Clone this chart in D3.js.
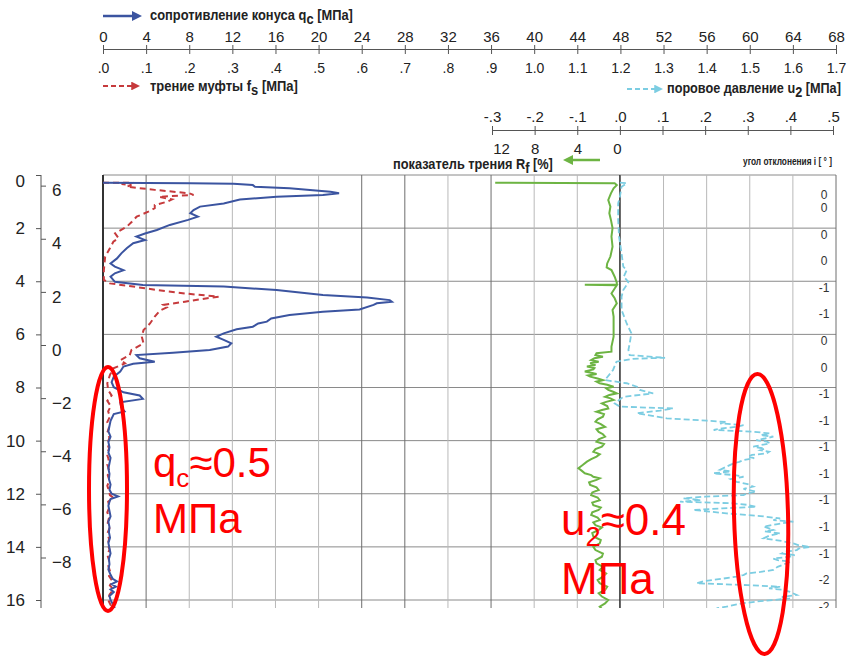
<!DOCTYPE html>
<html>
<head>
<meta charset="utf-8">
<script src="https://cdn.jsdelivr.net/npm/d3@7"></script>
<style>
body { margin: 0; background: #fff; }
text { font-family: "Liberation Sans Narrow", "Arial Narrow", "Liberation Sans", Arial, sans-serif; }
</style>
</head>
<body>
<div id="chart"></div>
<script>
// ---- data (depth m, value) ----
var qcProfile = [[0.29,0],[0.31,8.1],[0.33,12.1],[0.38,13.9],[0.44,14.1],[0.50,17.3],[0.63,21.1],[0.69,21.9],[0.75,20.4],[0.82,16.1],[0.92,12.7],[1.07,11.2],[1.19,9.0],[1.32,8.4],[1.44,8.1],[1.57,8.8],[1.69,7.9],[1.88,6.2],[2.07,5.0],[2.20,3.9],[2.32,3.1],[2.45,3.9],[2.57,2.8],[2.76,2.2],[2.95,1.7],[3.14,1.3],[3.33,0.7],[3.45,1.1],[3.58,1.9],[3.70,1.1],[3.83,0.7],[4.02,1.1],[4.14,3.7],[4.20,11.2],[4.33,16.1],[4.52,20.4],[4.61,24.5],[4.71,26.6],[4.77,26.8],[4.83,25.4],[4.89,25.1],[5.06,23.8],[5.15,20.4],[5.27,17.3],[5.40,15.6],[5.52,15.2],[5.59,14.4],[5.71,13.9],[5.81,12.4],[5.96,11.2],[6.09,10.5],[6.21,11.2],[6.34,11.9],[6.46,11.6],[6.59,9.9],[6.69,6.5],[6.78,3.1],[6.90,3.4],[7.03,4.8],[7.11,2.8],[7.21,1.9],[7.40,1.6],[7.59,1.0],[7.80,0.8],[7.99,1.0],[8.18,1.9],[8.30,3.4],[8.43,3.7],[8.56,1.6],[8.75,1.7],[8.90,2.0],[9.00,1.0],[9.25,0.7],[9.45,0.6],[9.65,0.5],[9.85,0.7],[10.05,0.5],[10.25,0.6],[10.45,0.5],[10.65,0.7],[10.85,0.6],[11.05,0.5],[11.25,0.6],[11.45,0.55],[11.65,0.7],[11.85,0.6],[12.0,0.8],[12.1,1.4],[12.2,0.7],[12.3,0.6],[12.45,0.5],[12.65,0.6],[12.85,0.7],[13.05,0.5],[13.25,0.6],[13.45,0.55],[13.65,0.65],[13.85,0.5],[14.05,0.6],[14.25,0.7],[14.45,0.55],[14.65,0.6],[14.85,0.5],[15.05,0.7],[15.2,0.9],[15.3,1.3],[15.4,0.8],[15.5,1.2],[15.6,0.7],[15.7,1.0],[15.85,0.6],[16.0,0.7],[16.15,0.9],[16.3,1.1]];

var fsProfile = [[0.29,0],[0.29,0.07],[0.34,0.043],[0.38,0.066],[0.44,0.055],[0.56,0.12],[0.69,0.2],[0.75,0.21],[0.82,0.13],[0.92,0.16],[1.0,0.15],[1.13,0.12],[1.25,0.12],[1.38,0.105],[1.57,0.078],[1.76,0.067],[1.95,0.055],[2.2,0.028],[2.38,0.036],[2.51,0.024],[2.76,0.016],[3.07,0.005],[3.58,0.002],[3.95,0.002],[4.08,0.016],[4.2,0.07],[4.33,0.125],[4.46,0.19],[4.58,0.268],[4.68,0.225],[4.77,0.19],[4.89,0.14],[4.98,0.148],[5.11,0.132],[5.33,0.12],[5.59,0.109],[5.84,0.094],[6.09,0.09],[6.34,0.094],[6.59,0.066],[6.78,0.062],[6.97,0.04],[7.09,0.051],[7.28,0.024],[7.53,0.016],[7.84,0.01],[8.1,0.012],[8.3,0.02],[8.5,0.01],[8.7,0.018],[8.9,0.012],[9.1,0.016],[9.3,0.01],[9.5,0.014],[9.7,0.01],[9.9,0.015],[10.1,0.01],[10.3,0.014],[10.5,0.009],[10.7,0.013],[10.9,0.01],[11.1,0.014],[11.3,0.011],[11.5,0.015],[11.7,0.01],[11.9,0.014],[12.05,0.016],[12.15,0.024],[12.3,0.012],[12.5,0.015],[12.7,0.01],[12.9,0.014],[13.1,0.011],[13.3,0.015],[13.5,0.01],[13.7,0.014],[13.9,0.011],[14.1,0.015],[14.3,0.01],[14.5,0.014],[14.7,0.012],[14.9,0.016],[15.1,0.014],[15.3,0.022],[15.45,0.016],[15.6,0.024],[15.8,0.015],[16.0,0.012],[16.2,0.018],[16.35,0.014]];

var rfProfile = [[0.29,11.7],[0.31,0.5],[0.38,0.3],[0.50,0.6],[0.69,0.85],[0.94,1.1],[1.19,0.9],[1.44,1.0],[1.69,0.85],[2.0,0.7],[2.32,0.8],[2.70,0.7],[3.07,0.9],[3.33,1.2],[3.48,1.25],[3.58,0.8],[3.83,0.5],[4.05,0.3],[4.12,0.3],[4.13,3.3],[4.15,0.3],[4.27,0.5],[4.46,0.8],[4.64,0.5],[4.83,0.3],[5.08,0.7],[5.33,0.6],[5.71,0.6],[6.09,0.6],[6.46,0.8],[6.65,0.8],[6.71,2.2],[6.78,2.3],[6.84,1.6],[6.90,2.4],[6.97,2.7],[7.03,2.0],[7.09,2.8],[7.15,2.3],[7.21,3.1],[7.27,2.4],[7.32,2.5],[7.40,3.3],[7.45,2.6],[7.49,2.2],[7.55,3.0],[7.59,2.8],[7.66,2.1],[7.72,1.6],[7.78,2.2],[7.84,1.9],[7.90,1.2],[7.97,0.6],[8.03,1.3],[8.09,1.1],[8.15,0.7],[8.22,0.3],[8.28,1.0],[8.35,1.4],[8.41,0.9],[8.47,0.6],[8.54,1.3],[8.60,1.7],[8.70,1.2],[8.79,1.1],[8.85,1.7],[8.91,2.2],[9.00,1.5],[9.10,1.6],[9.20,2.1],[9.29,2.3],[9.38,1.8],[9.48,1.4],[9.57,2.2],[9.67,2.0],[9.76,1.6],[9.85,1.4],[9.95,2.0],[10.04,2.2],[10.13,1.5],[10.23,1.7],[10.32,2.3],[10.42,2.5],[10.51,1.9],[10.60,2.2],[10.70,2.7],[10.79,3.1],[10.92,3.5],[11.04,3.9],[11.13,3.6],[11.23,3.3],[11.30,2.7],[11.36,2.5],[11.42,1.9],[11.48,2.2],[11.57,2.9],[11.67,2.8],[11.76,2.2],[11.86,2.0],[11.95,2.6],[12.05,2.7],[12.14,2.1],[12.24,1.9],[12.33,2.6],[12.43,2.5],[12.52,1.8],[12.61,2.0],[12.70,2.6],[12.80,2.7],[12.90,2.1],[12.99,1.9],[13.08,2.5],[13.18,2.3],[13.27,1.7],[13.36,2.0],[13.48,2.6],[13.61,2.5],[13.74,1.8],[13.87,1.9],[14.0,2.5],[14.12,2.3],[14.25,1.6],[14.37,1.7],[14.50,2.3],[14.62,2.2],[14.75,1.6],[14.87,1.9],[15.0,1.3],[15.12,1.6],[15.25,2.1],[15.37,1.9],[15.50,1.2],[15.62,1.4],[15.75,2.0],[15.87,1.7],[16.0,1.1],[16.13,1.4],[16.25,1.9],[16.38,1.6]];

var u2Profile = [[0.29,0.0],[0.31,0.016],[0.44,0.004],[0.82,0.0],[1.07,-0.004],[1.69,-0.004],[2.32,-0.002],[2.95,0.004],[3.45,0.008],[3.58,0.016],[3.83,0.009],[4.02,0.02],[4.14,0.016],[4.33,0.008],[4.58,0.004],[5.08,0.004],[5.59,0.016],[5.96,0.027],[6.34,0.023],[6.59,0.02],[6.78,0.023],[6.88,0.106],[6.92,0.03],[7.03,-0.008],[7.34,-0.016],[7.72,-0.035],[7.84,0.016],[7.97,0.04],[8.09,0.047],[8.22,0.078],[8.35,0.008],[8.60,-0.012],[8.72,0.0],[8.79,0.125],[8.87,0.094],[8.97,0.04],[9.16,0.11],[9.25,0.204],[9.30,0.25],[9.35,0.235],[9.42,0.29],[9.48,0.274],[9.54,0.24],[9.60,0.22],[9.66,0.31],[9.73,0.352],[9.79,0.33],[9.85,0.36],[9.92,0.34],[9.98,0.32],[10.04,0.345],[10.1,0.352],[10.17,0.33],[10.23,0.313],[10.30,0.34],[10.36,0.33],[10.42,0.35],[10.48,0.344],[10.54,0.31],[10.6,0.3],[10.66,0.315],[10.73,0.29],[10.80,0.28],[10.86,0.266],[10.98,0.25],[11.1,0.235],[11.16,0.26],[11.23,0.219],[11.30,0.27],[11.36,0.29],[11.45,0.26],[11.55,0.274],[11.64,0.3],[11.73,0.313],[11.82,0.29],[11.92,0.32],[11.98,0.30],[12.05,0.29],[12.11,0.2],[12.17,0.149],[12.24,0.19],[12.30,0.141],[12.36,0.266],[12.42,0.3],[12.49,0.32],[12.55,0.24],[12.61,0.172],[12.67,0.21],[12.74,0.25],[12.84,0.33],[12.93,0.376],[12.99,0.36],[13.05,0.407],[13.14,0.37],[13.24,0.337],[13.30,0.35],[13.36,0.36],[13.42,0.34],[13.49,0.376],[13.58,0.35],[13.68,0.337],[13.78,0.38],[13.87,0.407],[13.94,0.42],[14.0,0.446],[14.06,0.42],[14.12,0.415],[14.18,0.39],[14.25,0.38],[14.31,0.41],[14.37,0.399],[14.44,0.36],[14.5,0.37],[14.56,0.4],[14.62,0.391],[14.75,0.37],[14.87,0.36],[14.94,0.33],[15.0,0.297],[15.06,0.29],[15.12,0.274],[15.20,0.24],[15.28,0.2],[15.37,0.18],[15.44,0.3],[15.5,0.376],[15.56,0.35],[15.62,0.383],[15.70,0.4],[15.81,0.415],[15.88,0.38],[15.94,0.399],[16.0,0.36],[16.06,0.32],[16.12,0.29],[16.19,0.266],[16.25,0.25],[16.31,0.227]];

// axis ticks / labels
var qcTicks = d3.range(0, 69, 4);
var fsTicks = d3.range(0, 18).map(function(i) { return i / 10; });
var u2Ticks = [-0.3, -0.2, -0.1, 0, 0.1, 0.2, 0.3, 0.4, 0.5];
var rfTicks = [12, 8, 4, 0];
var depthTicks = d3.range(0, 17, 2);
var elevTicks = d3.range(6, -11, -2);
var angleDepths = [0.75, 1.25, 2.25, 3.25, 4.25, 5.25, 6.25, 7.25, 8.25, 9.25, 10.25, 11.25, 12.25, 13.25, 14.25, 15.25, 16.25];
var angleLabels = ["0","0","0","0","-1","-1","0","0","-1","-1","-1","-1","-1","-1","-1","-2","-2"];
var darkGrid = [4, 24, 28, 36, 68];

var width = 847, height = 657;
var cutY = 608;
var numFont = "'Liberation Sans Narrow','Arial Narrow','Liberation Sans',sans-serif";

var svg = d3.select("#chart").append("svg")
    .attr("width", width)
    .attr("height", height);

var defs = svg.append("defs");
defs.append("clipPath").attr("id", "cut")
  .append("rect").attr("x", 0).attr("y", 0).attr("width", width).attr("height", cutY);

function arrowMarker(id, color) {
    defs.append("marker")
        .attr("id", id)
        .attr("viewBox", "0 0 10 10")
        .attr("refX", 2).attr("refY", 5)
        .attr("markerWidth", 4).attr("markerHeight", 4)
        .attr("markerUnits", "strokeWidth")
        .attr("orient", "auto")
      .append("path")
        .attr("d", "M0,0 L10,5 L0,10 z")
        .attr("fill", color);
}
var cBlue = "#3b54a0", cRed = "#c63a3c", cGreen = "#6db443", cCyan = "#7ccde2";
arrowMarker("arBlue", cBlue);
arrowMarker("arRed", cRed);
arrowMarker("arGreen", cGreen);
arrowMarker("arCyan", cCyan);

// scales
var qcX = d3.scaleLinear().domain([0, 68]).range([103, 836]);
var fsX = d3.scaleLinear().domain([0, 1.7]).range([103, 836]);
var u2X = d3.scaleLinear().domain([-0.3, 0.5]).range([492, 833]);
var rfX = d3.scaleLinear().domain([0, 12]).range([620, 492]);
var depthY = d3.scaleLinear().domain([0, 16]).range([175, 600]);
var elevY = d3.scaleLinear().domain([6.4, -9.6]).range([175, 600]);

var g = svg.append("g").attr("clip-path", "url(#cut)");

// grid
g.append("g").selectAll("line")
    .data(depthTicks)
    .enter().append("line")
      .attr("x1", qcX(0)).attr("x2", qcX(68))
      .attr("y1", function(d) { return depthY(d); })
      .attr("y2", function(d) { return depthY(d); })
      .attr("stroke", "#8a8a8a").attr("stroke-width", 1);

g.append("g").selectAll("line")
    .data(qcTicks.slice(1))
    .enter().append("line")
      .attr("x1", function(d) { return qcX(d); })
      .attr("x2", function(d) { return qcX(d); })
      .attr("y1", depthY(0)).attr("y2", cutY)
      .attr("stroke", function(d) { return darkGrid.indexOf(d) >= 0 ? "#6e6e6e" : "#b9b9b9"; })
      .attr("stroke-width", 1);

// zero lines
g.append("line").attr("x1", qcX(0)).attr("x2", qcX(0))
    .attr("y1", depthY(0)).attr("y2", cutY)
    .attr("stroke", "#333").attr("stroke-width", 2);
g.append("line").attr("x1", u2X(0)).attr("x2", u2X(0))
    .attr("y1", depthY(0)).attr("y2", cutY)
    .attr("stroke", "#222").attr("stroke-width", 1.3);

// curves
function profileLine(xs) {
    return d3.line()
        .x(function(d) { return xs(d[1]); })
        .y(function(d) { return depthY(d[0]); });
}

g.append("path").datum(fsProfile)
    .attr("d", profileLine(fsX))
    .attr("fill", "none").attr("stroke", cRed)
    .attr("stroke-width", 2).attr("stroke-dasharray", "6,4");

g.append("path").datum(qcProfile)
    .attr("d", profileLine(qcX))
    .attr("fill", "none").attr("stroke", cBlue)
    .attr("stroke-width", 2);

g.append("path").datum(rfProfile)
    .attr("d", profileLine(rfX))
    .attr("fill", "none").attr("stroke", cGreen)
    .attr("stroke-width", 2);

g.append("path").datum(u2Profile)
    .attr("d", profileLine(u2X))
    .attr("fill", "none").attr("stroke", cCyan)
    .attr("stroke-width", 1.8).attr("stroke-dasharray", "6,3");

// angle column
g.append("g").selectAll("text")
    .data(angleDepths)
    .enter().append("text")
      .attr("x", 824)
      .attr("y", function(d) { return depthY(d) + 4; })
      .attr("text-anchor", "middle")
      .attr("font-size", 12)
      .attr("fill", "#333")
      .text(function(d, i) { return angleLabels[i]; });

// left axes: depth and elevation
var depthAxis = g.append("g")
    .attr("transform", "translate(41,0)")
    .call(d3.axisLeft(depthY).tickValues(depthTicks).tickSize(5).tickPadding(11).tickSizeOuter(0));
depthAxis.select(".domain").attr("d", "M0," + depthY(0) + "V" + cutY);

var elevAxis = g.append("g")
    .attr("transform", "translate(41,0)")
    .call(d3.axisRight(elevY).tickValues(elevTicks).tickSize(5).tickPadding(6).tickSizeOuter(0));
elevAxis.select(".domain").remove();
elevAxis.selectAll(".tick text").attr("dy", "0.6em");

[depthAxis, elevAxis].forEach(function(a) {
    a.selectAll(".domain, .tick line").attr("stroke", "#555");
    a.selectAll(".tick text")
        .attr("font-size", 17)
        .attr("fill", "#222")
        .style("font-family", numFont);
});
depthAxis.selectAll(".tick text").filter(function(d) { return d === 0; }).attr("dy", "0.7em");

// top axis: qc above, fs below
function styleTopAxis(a, size) {
    a.selectAll(".domain").attr("stroke", "#555");
    a.selectAll(".tick line").attr("stroke", "#555").attr("y1", -4).attr("y2", 5);
    a.selectAll(".tick text")
        .attr("font-size", size).attr("fill", "#222")
        .style("font-family", numFont);
}

var qcAxis = svg.append("g")
    .attr("transform", "translate(0,49)")
    .call(d3.axisTop(qcX).tickValues(qcTicks).tickSize(4).tickPadding(3).tickSizeOuter(0));
styleTopAxis(qcAxis, 15);

var fsAxis = svg.append("g")
    .attr("transform", "translate(0,49)")
    .call(d3.axisBottom(fsX).tickValues(fsTicks).tickSizeOuter(0)
        .tickFormat(function(d) { return d < 1 ? "." + Math.round(d * 10) : d.toFixed(1); }));
fsAxis.select(".domain").remove();
fsAxis.selectAll(".tick line").remove();
fsAxis.selectAll(".tick text").attr("y", 24).attr("dy", 0)
    .attr("font-size", 14).attr("fill", "#222")
    .style("font-family", numFont);

// u2 axis with Rf labels underneath
var u2Axis = svg.append("g")
    .attr("transform", "translate(0,130)")
    .call(d3.axisTop(u2X).tickValues(u2Ticks).tickSize(4).tickPadding(4).tickSizeOuter(0)
        .tickFormat(function(d) {
            var s = Math.abs(d) < 1e-9 ? ".0" : "." + Math.round(Math.abs(d) * 10);
            return d < -1e-9 ? "-" + s : s;
        }));
styleTopAxis(u2Axis, 15);

var rfAxis = svg.append("g")
    .attr("transform", "translate(0,130)")
    .call(d3.axisBottom(rfX).tickValues(rfTicks).tickSizeOuter(0));
rfAxis.select(".domain").remove();
rfAxis.selectAll(".tick line").remove();
rfAxis.selectAll(".tick text").attr("y", 24).attr("dy", 0)
    .attr("dx", function(d) { return d === 12 ? 9 : (d === 0 ? -3 : 0); })
    .attr("font-size", 15).attr("fill", "#222")
    .style("font-family", numFont);

// legend titles, squeezed horizontally to the narrow lettering of the original
function squeeze(t, x, y, anchor, len) {
    var w = t.node().getComputedTextLength();
    var sx = Math.min(1, len / w);
    var x0 = anchor === "end" ? x - w * sx : x;
    t.attr("text-anchor", "start")
     .attr("transform", "translate(" + x0 + "," + y + ") scale(" + sx + ",1)");
}

function legendText(x, y, anchor, size, len, main, sub, tail) {
    var t = svg.append("text")
        .attr("x", 0).attr("y", 0)
        .attr("font-size", size)
        .attr("font-weight", "bold")
        .attr("fill", "#222");
    t.append("tspan").text(main);
    t.append("tspan").attr("dy", 4).text(sub);
    t.append("tspan").attr("dy", -4).text(tail);
    squeeze(t, x, y, anchor, len);
    return t;
}

svg.append("line").attr("x1", 103).attr("x2", 134).attr("y1", 16).attr("y2", 16)
    .attr("stroke", cBlue).attr("stroke-width", 2.5).attr("marker-end", "url(#arBlue)");
legendText(150, 20, "start", 15, 203, "сопротивление конуса q", "c", " [МПа]");

svg.append("line").attr("x1", 103).attr("x2", 133).attr("y1", 86).attr("y2", 86)
    .attr("stroke", cRed).attr("stroke-width", 2.2).attr("stroke-dasharray", "5,3")
    .attr("marker-end", "url(#arRed)");
legendText(150, 91, "start", 15, 148, "трение муфты f", "s", " [МПа]");

svg.append("line").attr("x1", 627).attr("x2", 656).attr("y1", 89).attr("y2", 89)
    .attr("stroke", cCyan).attr("stroke-width", 2.2).attr("stroke-dasharray", "5,3")
    .attr("marker-end", "url(#arCyan)");
legendText(841, 93, "end", 15, 174, "поровое давление u", "2", " [МПа]");

svg.append("line").attr("x1", 600).attr("x2", 571).attr("y1", 160).attr("y2", 160)
    .attr("stroke", cGreen).attr("stroke-width", 2.5).attr("marker-end", "url(#arGreen)");
legendText(553, 169, "end", 14, 160, "показатель трения R", "f", " [%]");

var angleTitle = svg.append("text")
    .attr("x", 0).attr("y", 0)
    .attr("font-size", 11).attr("font-weight", "bold")
    .attr("fill", "#222")
    .text("угол отклонения i [ ° ]");
squeeze(angleTitle, 832, 165, "end", 89);

// red annotations
function note(x, y, size, main, sub, tail, line2) {
    var t = svg.append("text")
        .attr("x", x).attr("y", y)
        .attr("fill", "#ff0000")
        .attr("font-size", size)
        .style("font-family", "'Liberation Sans', Arial, sans-serif");
    t.append("tspan").text(main);
    t.append("tspan").attr("font-size", size * 0.62).attr("dy", size * 0.24).text(sub);
    t.append("tspan").attr("dy", -size * 0.24).text(tail);
    svg.append("text")
        .attr("x", x).attr("y", y + size * 1.33)
        .attr("fill", "#ff0000")
        .attr("font-size", size)
        .style("font-family", "'Liberation Sans', Arial, sans-serif")
        .text(line2);
}
note(153, 477, 42, "q", "c", "≈0.5", "МПа");
note(561, 535, 44, "u", "2", "≈0.4", "МПа");

svg.append("ellipse")
    .attr("cx", 108).attr("cy", 489).attr("rx", 19).attr("ry", 122)
    .attr("fill", "none").attr("stroke", "#ff0000").attr("stroke-width", 4);
svg.append("ellipse")
    .attr("cx", 761).attr("cy", 514).attr("rx", 27).attr("ry", 140)
    .attr("transform", "rotate(-1.5,761,514)")
    .attr("fill", "none").attr("stroke", "#ff0000").attr("stroke-width", 4);
</script>
</body>
</html>
